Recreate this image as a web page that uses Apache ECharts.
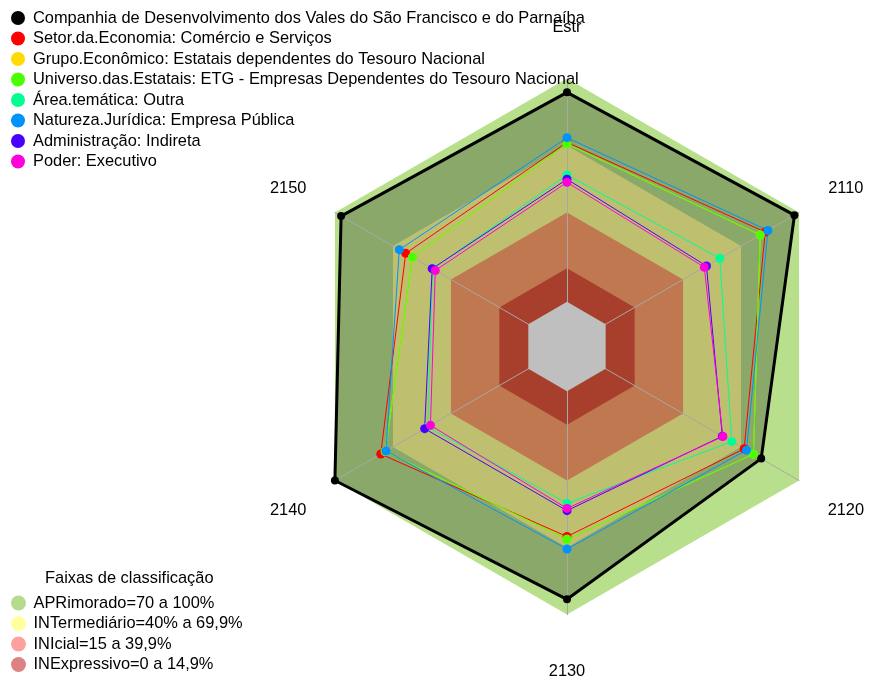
<!DOCTYPE html>
<html>
<head>
<meta charset="utf-8">
<script src="https://cdn.jsdelivr.net/npm/echarts@6/dist/echarts.min.js"></script>
<style>
html,body{margin:0;padding:0;background:#fff;}
#chart{width:869px;height:680px;}
</style>
</head>
<body>
<div id="chart"></div>
<script>
// Axes (in ECharts counter-clockwise order starting at top)
const axisNames = ['Estr', '2150', '2140', '2130', '2120', '2110'];
const axisMin = -20;
const axisMax = 100;

// Series names
const seriesNames = [
  'Companhia de Desenvolvimento dos Vales do São Francisco e do Parnaíba',
  'Setor.da.Economia: Comércio e Serviços',
  'Grupo.Econômico: Estatais dependentes do Tesouro Nacional',
  'Universo.das.Estatais: ETG - Empresas Dependentes do Tesouro Nacional',
  'Área.temática: Outra',
  'Natureza.Jurídica: Empresa Pública',
  'Administração: Indireta',
  'Poder: Executivo'
];

// Values per axis, same order as axisNames
const companhia    = [93.8, 96.8, 100.0, 93.2, 80.4, 97.6];
const setor        = [71.4, 63.4, 76.3, 65.1, 71.6, 82.5];
const grupo        = [70.7, 59.9, 74.0, 66.3, 76.4, 79.9];
const universo     = [70.7, 59.9, 74.0, 66.3, 76.4, 79.9];
const areaTematica = [56.8, 49.5, 52.0, 50.2, 65.2, 59.0];
const natureza     = [73.5, 66.7, 73.6, 70.7, 72.8, 83.9];
const administracao= [54.9, 49.7, 53.6, 53.5, 60.3, 52.1];
const poder        = [53.5, 48.1, 50.6, 52.5, 60.6, 51.0];

// Classification bands
const bandNames = [
  'APRimorado=70 a 100%',
  'INTermediário=40% a 69,9%',
  'INIcial=15 a 39,9%',
  'INExpressivo=0 a 14,9%'
];
const bandUpper = [100, 70, 40, 15];
const centerHole = 0;

const seriesColors = ['#000000', '#FF0000', '#FFDB00', '#49FF00', '#00FF92', '#0092FF', '#4900FF', '#FF00DB'];
const bandFill = ['#b8e08c', '#ffff96', '#ffa06b', '#e0553b'];
const bandLegendColor = ['#b4dc8c', '#ffffa0', '#ffa0a0', '#dc8282'];

const seriesValues = [companhia, setor, grupo, universo, areaTematica, natureza, administracao, poder];

const FONT = "'Liberation Sans', Arial, sans-serif";
const FS = 16.4;

const series = [];

// bands
bandUpper.forEach(function (v, i) {
  series.push({
    type: 'radar',
    name: bandNames[i],
    z: 1,
    symbol: 'none',
    silent: true,
    itemStyle: { color: bandLegendColor[i] },
    lineStyle: { width: 0, opacity: 0 },
    areaStyle: { color: bandFill[i], opacity: 1 },
    data: [{ value: axisNames.map(function () { return v; }), name: bandNames[i] }]
  });
});

// darkening fill of main company polygon
series.push({
  type: 'radar',
  name: 'fill-companhia',
  z: 2,
  symbol: 'none',
  silent: true,
  lineStyle: { width: 0, opacity: 0 },
  areaStyle: { color: 'rgba(0,0,0,0.25)', opacity: 1 },
  data: [{ value: companhia }]
});

// center hole
series.push({
  type: 'radar',
  name: 'center',
  z: 4,
  symbol: 'none',
  silent: true,
  lineStyle: { width: 0, opacity: 0 },
  areaStyle: { color: '#bfbfbf', opacity: 1 },
  data: [{ value: axisNames.map(function () { return centerHole; }) }]
});

seriesValues.forEach(function (vals, i) {
  const isMain = i === 0;
  series.push({
    type: 'radar',
    name: seriesNames[i],
    z: 5,
    symbol: 'circle',
    symbolSize: isMain ? 8 : 9,
    itemStyle: { color: seriesColors[i] },
    lineStyle: { color: seriesColors[i], width: isMain ? 3 : 1 },
    data: [{ value: vals, name: seriesNames[i] }]
  });
});

const chart = echarts.init(document.getElementById('chart'), null, { renderer: 'canvas' });
chart.setOption({
  animation: false,
  backgroundColor: '#ffffff',
  title: [{
    text: 'Faixas de classificação',
    left: 40,
    top: 565,
    padding: 5,
    textStyle: { fontFamily: FONT, fontSize: FS, lineHeight: 16, fontWeight: 'normal', color: '#000' }
  }],
  legend: [{
    data: seriesNames,
    orient: 'vertical',
    left: 11,
    top: 10,
    padding: 0,
    itemWidth: 20,
    itemHeight: 14,
    itemGap: 4.5,
    icon: 'circle',
    selectedMode: false,
    textStyle: { fontFamily: FONT, fontSize: FS, lineHeight: 16, color: '#000' }
  }, {
    data: bandNames,
    orient: 'vertical',
    left: 11,
    top: 595,
    height: 85,
    padding: 0,
    itemWidth: 20,
    itemHeight: 15,
    itemGap: 4.5,
    icon: 'circle',
    selectedMode: false,
    textStyle: { fontFamily: FONT, fontSize: FS, lineHeight: 16, color: '#000' }
  }],
  radar: {
    center: [567, 346.5],
    radius: 268,
    startAngle: 90,
    shape: 'polygon',
    z: 3,
    nameGap: 54,
    splitNumber: 6,
    indicator: axisNames.map(function (n) { return { name: n, min: axisMin, max: axisMax }; }),
    axisName: {
      color: '#000', fontFamily: FONT, fontSize: FS, align: 'center', verticalAlign: 'middle',
      formatter: function (name) { return '{s| }\n{a|' + name + '}'; },
      rich: {
        s: { fontSize: 1, lineHeight: 5 },
        a: { fontFamily: FONT, fontSize: FS, lineHeight: 16, color: '#000' }
      }
    },
    axisLine: { show: true, lineStyle: { color: '#a8a8a8', width: 1 } },
    axisTick: { show: false },
    axisLabel: { show: false },
    splitLine: { show: false },
    splitArea: { show: false }
  },
  series: series
});
</script>
</body>
</html>
